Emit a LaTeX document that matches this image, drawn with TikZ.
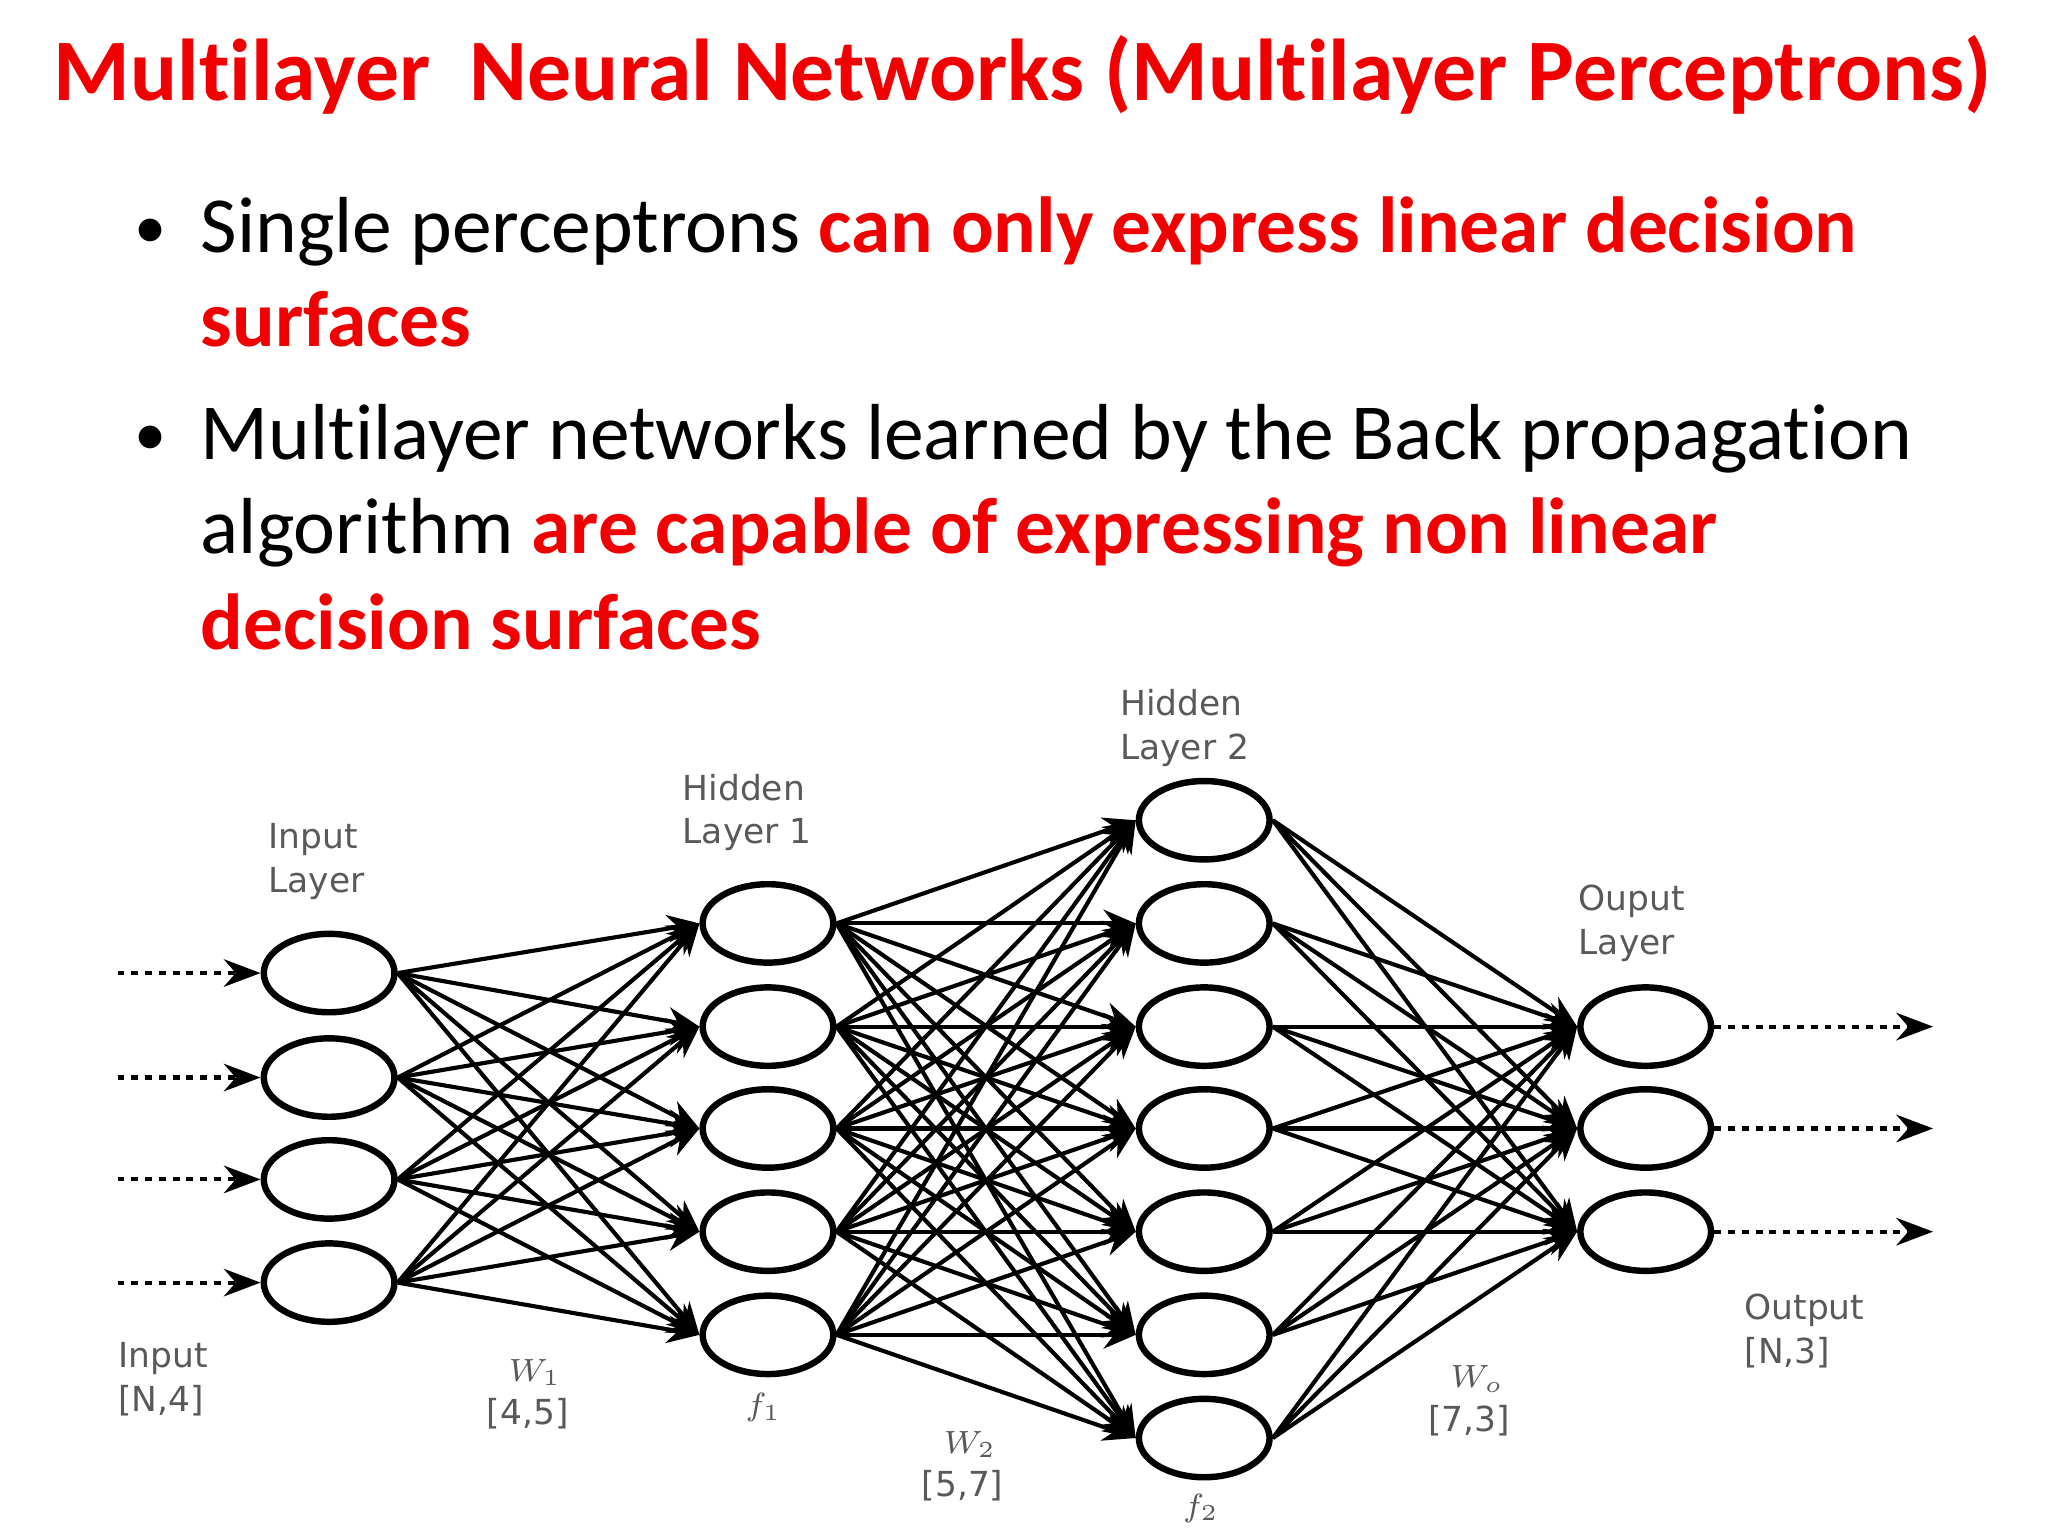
\documentclass[tikz,border=0pt]{standalone}
\usepackage{fontspec}
\setmainfont{Carlito}[Ligatures=NoCommon]
\newfontfamily\lab{DejaVu Sans}
\usetikzlibrary{arrows.meta,shapes.geometric}
\definecolor{tred}{RGB}{240,0,0}
\begin{document}
\begin{tikzpicture}[x=0.01cm,y=-0.01cm,
  neu/.style={draw,line width=1.4pt,ellipse,minimum width=1.0cm,minimum height=0.6cm,inner sep=0pt},
  edge/.style={line width=0.9pt,-{Stealth[length=7pt,width=6pt]}},
  dotarr/.style={line width=0.9pt,dash pattern=on 1.5pt off 1.5pt,-{Stealth[length=8pt,width=6pt]}},
  lbl/.style={font=\lab\fontsize{7.5}{9.5}\selectfont,text=black!65,align=left,anchor=north west,inner sep=0pt},
  line/.style={anchor=base west,inner sep=0pt,font=\fontsize{17.3}{20}\selectfont}]
\useasboundingbox (0,0) rectangle (1568,1176);
\node[inner sep=0pt,text=tred,font=\bfseries\fontsize{19.1}{22}\selectfont] (title) at (783,57) {Multilayer\ \ Neural Networks (Multilayer Perceptrons)};
\node[anchor=base,inner sep=0pt,font=\fontsize{14}{20}\selectfont] (b1) at (115,190) {\textbullet};
\node[anchor=base,inner sep=0pt,font=\fontsize{14}{20}\selectfont] (b2) at (115,349) {\textbullet};
\node[line] (l1) at (153,193) {Single perceptrons \textcolor{tred}{\bfseries can only express linear decision}};
\node[line,text=tred,font=\bfseries\fontsize{17.3}{20}\selectfont] (l2) at (153,265) {surfaces};
\node[line] (l3) at (153,352) {Multilayer networks learned by the Back propagation};
\node[line] (l4) at (153,424) {algorithm \textcolor{tred}{\bfseries are capable of expressing non linear}};
\node[line,text=tred,font=\bfseries\fontsize{17.3}{20}\selectfont] (l5) at (153,497) {decision surfaces};
% nodes
\foreach \i/\y in {1/745,2/825,3/903,4/982} \node[neu] (a\i) at (252,\y) {};
\foreach \i/\y in {1/707,2/786,3/864,4/943,5/1022} \node[neu] (h\i) at (588,\y) {};
\foreach \i/\y in {1/628,2/707,3/786,4/864,5/943,6/1022,7/1101} \node[neu] (g\i) at (922,\y) {};
\foreach \i/\y in {1/786,2/864,3/943} \node[neu] (o\i) at (1260,\y) {};
\foreach \i in {1,...,4}{\foreach \j in {1,...,5} \draw[edge] (a\i.east) -- (h\j.west);}
\foreach \i in {1,...,5}{\foreach \j in {1,...,7} \draw[edge] (h\i.east) -- (g\j.west);}
\foreach \i in {1,...,7}{\foreach \j in {1,...,3} \draw[edge] (g\i.east) -- (o\j.west);}
\foreach \i/\y in {1/745,2/825,3/903,4/982}{\coordinate (s\i) at (90,\y); \draw[dotarr] (s\i) -- (a\i.west);}
\foreach \i/\y in {1/786,2/864,3/943}{\coordinate (t\i) at (1480,\y); \draw[dotarr] (o\i.east) -- (t\i);}
% labels
\node[lbl] (L1) at (205,630) {Input\\Layer};
\node[lbl] (L2) at (522,592) {Hidden\\Layer 1};
\node[lbl] (L3) at (857,527) {Hidden\\Layer 2};
\node[lbl] (L4) at (1208,677) {Ouput\\Layer};
\node[lbl] (L5) at (90,1027) {Input\\{[N,4]}};
\node[lbl] (L6) at (372,1040) {\ \ $W_1$\\{[4,5]}};
\node[lbl] (L7) at (570,1066) {$f_1$};
\node[lbl] (L8) at (705,1095) {\ \ $W_2$\\{[5,7]}};
\node[lbl] (L9) at (905,1143) {$f_2$};
\node[lbl] (L10) at (1093,1045) {\ \ $W_o$\\{[7,3]}};
\node[lbl] (L11) at (1335,990) {Output\\{[N,3]}};
\end{tikzpicture}
\end{document}
